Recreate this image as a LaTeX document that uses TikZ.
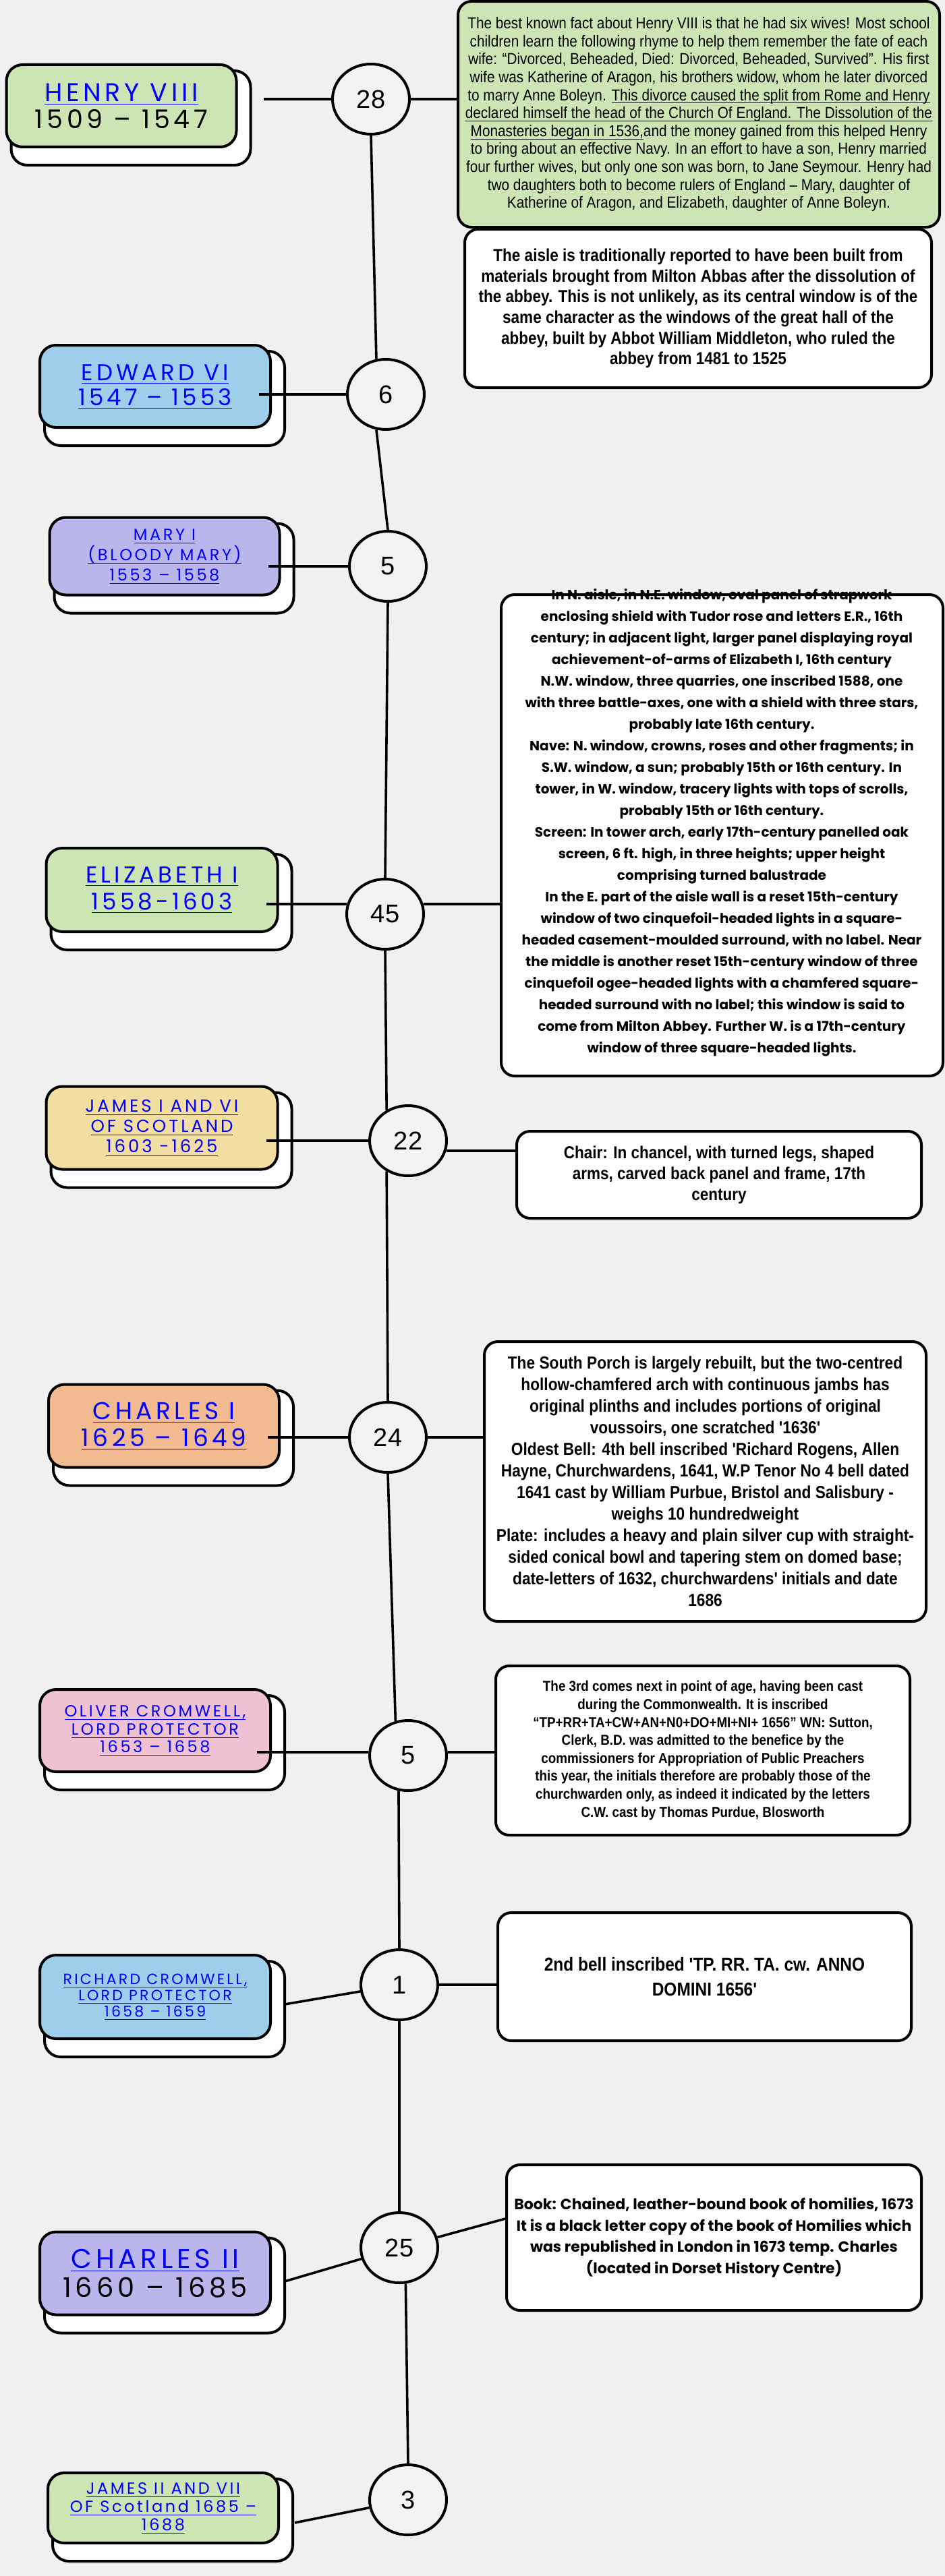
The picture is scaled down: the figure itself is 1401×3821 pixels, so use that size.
\documentclass[tikz,border=0pt]{standalone}
\usepackage{fontspec}
\usetikzlibrary{shapes.geometric,backgrounds}

\setmainfont{Liberation Sans}
\newfontfamily\narrowfont[FakeStretch=0.88]{Liberation Sans}
\newfontfamily\geofont{Poppins}
\newfontfamily\kingfont[LetterSpace=15]{Poppins}
\newfontfamily\numfont{Liberation Sans}
% underline
\newcommand\kul[1]{\setbox0=\hbox{#1}\rlap{\rule[-2.2pt]{\wd0}{0.5pt}}\box0}

\definecolor{paperbg}{RGB}{240,240,240}
\definecolor{tudorgreen}{RGB}{205,228,181}
\definecolor{skyblue}{RGB}{158,206,234}
\definecolor{lilac}{RGB}{186,181,234}
\definecolor{straw}{RGB}{242,222,160}
\definecolor{peachfill}{RGB}{242,186,144}
\definecolor{rosepink}{RGB}{238,194,211}
\definecolor{ringgrey}{RGB}{242,242,242}
\definecolor{inkblue}{RGB}{0,0,255}

\begin{document}
\begin{tikzpicture}[x=0.5pt,y=-0.5pt,
	king/.style={draw,line width=2pt,rounded corners=12pt,inner sep=0pt,align=center,text=inkblue},
	info/.style={draw,fill=white,line width=2pt,rounded corners=10pt,inner sep=0pt,align=center},
	reign/.style={ellipse,draw,line width=2pt,fill=ringgrey,minimum width=57pt,minimum height=52pt,inner sep=0pt,font=\numfont\fontsize{19}{19}\selectfont},
	link/.style={line width=1.8pt},
	backbox/.style={draw,fill=white,line width=2pt,rounded corners=12pt}]
	\useasboundingbox (0,0) rectangle (1401,3821);

	% kings
	\node[king,fill=tudorgreen,minimum width=170.5pt,minimum height=61pt,font=\kingfont\fontsize{19}{20}\selectfont] (henry) at (180,157) {\kul{HENRY VIII}\\{\color{black}1509 – 1547}};
	\node[king,fill=skyblue,minimum width=171pt,minimum height=61pt,font=\kingfont\fontsize{17}{18.5}\selectfont] (edward) at (230,573) {\kul{EDWARD VI}\\\kul{1547 – 1553}};
	\node[king,fill=lilac,minimum width=170.5pt,minimum height=57.5pt,font=\kingfont\fontsize{12}{15}\selectfont] (mary) at (244,825) {\kul{MARY I}\\\kul{(BLOODY MARY)}\\\kul{1553 – 1558}};
	\node[king,fill=tudorgreen,minimum width=171.5pt,minimum height=62pt,font=\kingfont\fontsize{17}{20}\selectfont] (elizabeth) at (240,1320) {\kul{ELIZABETH I}\\\kul{1558-1603}};
	\node[king,fill=straw,minimum width=171.5pt,minimum height=61.5pt,font=\kingfont\fontsize{13}{15}\selectfont] (jamesi) at (240,1673) {\kul{JAMES I AND VI}\\\kul{OF SCOTLAND}\\\kul{1603 -1625}};
	\node[king,fill=peachfill,minimum width=171pt,minimum height=61.5pt,font=\kingfont\fontsize{18}{20}\selectfont] (charlesi) at (243,2115) {\kul{CHARLES I}\\\kul{1625 – 1649}};
	\node[king,fill=rosepink,minimum width=171pt,minimum height=61pt,font=\kingfont\fontsize{12}{13.2}\selectfont] (oliver) at (230,2567) {\kul{OLIVER CROMWELL,}\\\kul{LORD PROTECTOR}\\\kul{1653 – 1658}};
	\node[king,fill=skyblue,minimum width=171pt,minimum height=62pt,font=\kingfont\fontsize{11}{12}\selectfont] (richard) at (230,2962) {\kul{RICHARD CROMWELL,}\\\kul{LORD PROTECTOR}\\\kul{1658 – 1659}};
	\node[king,fill=lilac,minimum width=171pt,minimum height=61.5pt,font=\kingfont\fontsize{20}{21.5}\selectfont] (charlesii) at (230,3372) {\kul{CHARLES II}\\{\color{black}1660 – 1685}};
	\node[king,fill=tudorgreen,minimum width=171pt,minimum height=52pt,font=\kingfont\fontsize{12}{13.5}\selectfont] (jamesii) at (242,3720) {\kul{JAMES II AND VII}\\\kul{OF Scotland 1685 –}\\\kul{1688}};

	% years
	\node[reign] (c28) at (550,147) {28};
	\node[reign] (c6) at (572,585) {6};
	\node[reign] (c5a) at (575,840) {5};
	\node[reign] (c45) at (571,1356) {45};
	\node[reign] (c22) at (605,1692) {22};
	\node[reign] (c24) at (575,2132) {24};
	\node[reign] (c5b) at (605,2604) {5};
	\node[reign] (c1) at (592,2944) {1};
	\node[reign] (c25) at (592,3334) {25};
	\node[reign] (c3) at (605,3708) {3};

	% notes
	\node[info,fill=tudorgreen,minimum width=357pt,minimum height=167.5pt,font=\narrowfont\fontsize{11.8}{13.3}\selectfont] (henryinfo) at (1036,169.5) {The best known fact about Henry VIII is that he had six wives! Most school\\children learn the following rhyme to help them remember the fate of each\\wife: “Divorced, Beheaded, Died: Divorced, Beheaded, Survived”. His first\\wife was Katherine of Aragon, his brothers widow, whom he later divorced\\to marry Anne Boleyn. \kul{This divorce caused the split from Rome and Henry}\\\kul{declared himself the head of the Church Of England. The Dissolution of the}\\\kul{Monasteries began in 1536,} and the money gained from this helped Henry\\to bring about an effective Navy. In an effort to have a son, Henry married\\four further wives, but only one son was born, to Jane Seymour. Henry had\\two daughters both to become rulers of England – Mary, daughter of\\Katherine of Aragon, and Elizabeth, daughter of Anne Boleyn.};
	\node[info,minimum width=346pt,minimum height=117.5pt,font=\narrowfont\bfseries\fontsize{12.8}{15.3}\selectfont] (aisle) at (1035,457.5) {The aisle is traditionally reported to have been built from\\materials brought from Milton Abbas after the dissolution of\\the abbey. This is not unlikely, as its central window is of the\\same character as the windows of the great hall of the\\abbey, built by Abbot William Middleton, who ruled the\\abbey from 1481 to 1525};
	\node[info,minimum width=327.5pt,minimum height=357pt] (elizinfo) at (1070.5,1239) {};
	\node[align=center,font=\geofont\bfseries\fontsize{10}{16}\selectfont] (elizatext) at (1070,1220) {In N. aisle, in N.E. window, oval panel of strapwork\\enclosing shield with Tudor rose and letters E.R., 16th\\century; in adjacent light, larger panel displaying royal\\achievement-of-arms of Elizabeth I, 16th century\\N.W. window, three quarries, one inscribed 1588, one\\with three battle-axes, one with a shield with three stars,\\probably late 16th century.\\Nave: N. window, crowns, roses and other fragments; in\\S.W. window, a sun; probably 15th or 16th century. In\\tower, in W. window, tracery lights with tops of scrolls,\\probably 15th or 16th century.\\Screen: In tower arch, early 17th-century panelled oak\\screen, 6 ft. high, in three heights; upper height\\comprising turned balustrade\\In the E. part of the aisle wall is a reset 15th-century\\window of two cinquefoil-headed lights in a square-\\headed casement-moulded surround, with no label. Near\\the middle is another reset 15th-century window of three\\cinquefoil ogee-headed lights with a chamfered square-\\headed surround with no label; this window is said to\\come from Milton Abbey. Further W. is a 17th-century\\window of three square-headed lights.};
	\node[info,minimum width=300pt,minimum height=64.5pt,font=\narrowfont\bfseries\fontsize{12.8}{15.5}\selectfont] (chair) at (1066,1742.5) {Chair: In chancel, with turned legs, shaped\\arms, carved back panel and frame, 17th\\century};
	\node[info,minimum width=327.5pt,minimum height=207.5pt,font=\narrowfont\bfseries\fontsize{12.9}{16}\selectfont] (porch) at (1045.5,2197.5) {The South Porch is largely rebuilt, but the two-centred\\hollow-chamfered arch with continuous jambs has\\original plinths and includes portions of original\\voussoirs, one scratched '1636'\\Oldest Bell: 4th bell inscribed 'Richard Rogens, Allen\\Hayne, Churchwardens, 1641, W.P Tenor No 4 bell dated\\1641 cast by William Purbue, Bristol and Salisbury -\\weighs 10 hundredweight\\Plate: includes a heavy and plain silver cup with straight-\\sided conical bowl and tapering stem on domed base;\\date-letters of 1632, churchwardens' initials and date\\1686};
	\node[info,minimum width=307pt,minimum height=125.5pt,font=\narrowfont\bfseries\fontsize{10.7}{13.3}\selectfont] (oliverinfo) at (1042,2596.5) {The 3rd comes next in point of age, having been cast\\during the Commonwealth. It is inscribed\\“TP+RR+TA+CW+AN+N0+DO+MI+NI+ 1656” WN: Sutton,\\Clerk, B.D. was admitted to the benefice by the\\commissioners for Appropriation of Public Preachers\\this year, the initials therefore are probably those of the\\churchwarden only, as indeed it indicated by the letters\\C.W. cast by Thomas Purdue, Blosworth};
	\node[info,minimum width=306.5pt,minimum height=95pt,font=\narrowfont\bfseries\fontsize{13.9}{18.5}\selectfont] (bell) at (1044.5,2932) {2nd bell inscribed 'TP. RR. TA. cw. ANNO\\DOMINI 1656'};
	\node[info,minimum width=307.5pt,minimum height=108pt,font=\geofont\bfseries\fontsize{11}{15.9}\selectfont] (book) at (1058.5,3319) {Book: Chained, leather-bound book of homilies, 1673\\It is a black letter copy of the book of Homilies which\\was republished in London in 1673 temp. Charles\\(located in Dorset History Centre)};

	% spine
	\draw[link] (c28.south) -- (c6.105);
	\draw[link] (c6.255) -- (c5a.north);
	\draw[link] (c5a.south) -- (c45.north);
	\draw[link] (c45.south) -- (c22.125);
	\draw[link] (c22.235) -- (c24.north);
	\draw[link] (c24.south) -- (c5b.110);
	\draw[link] (c5b.255) -- (c1.north);
	\draw[link] (c1.south) -- (c25.north);
	\draw[link] (c25.280) -- (c3.north);

	% kings to years
	\draw[link,shorten >=19pt] (c28) -- (c28 -| henry.east);
	\draw[link,shorten >=-9.5pt] (c6) -- (c6 -| edward.east);
	\draw[link,shorten >=-9.5pt] (c5a) -- (c5a -| mary.east);
	\draw[link,shorten >=-9.5pt] (c45.165) -- (c45.165 -| elizabeth.east);
	\draw[link,shorten >=-9.5pt] (c22) -- (c22 -| jamesi.east);
	\draw[link,shorten >=-9.5pt] (c24) -- (c24 -| charlesi.east);
	\draw[link,shorten >=-11pt] (c5b.175) -- (c5b.175 -| oliver.east);
	\draw[link] (c1) -- ([xshift=9.5pt,yshift=-5.5pt]richard.east);
	\draw[link] (c25) -- ([xshift=9.5pt,yshift=-6pt]charlesii.east);
	\draw[link] (c3) -- ([xshift=11pt,yshift=-11pt]jamesii.east);

	% years to notes
	\draw[link] (c28) -- (c28 -| henryinfo.west);
	\draw[link] (c45.15) -- (c45.15 -| elizinfo.west);
	\draw[link] (c22.345) -- (c22.345 -| chair.west);
	\draw[link] (c24) -- (c24 -| porch.west);
	\draw[link] (c5b.5) -- (c5b.5 -| oliverinfo.west);
	\draw[link] (c1) -- (c1 -| bell.west);
	\draw[link] (c25) -- ([yshift=14pt]book.west);

	% paper and shadows
	\begin{scope}[on background layer]
		\fill[paperbg] (0,0) rectangle (1401,3821);
		\foreach \k in {henry,edward,mary,elizabeth,jamesi,charlesi,oliver,richard,charlesii,jamesii}
			\draw[backbox] ([shift={(4.5pt,-5.5pt)}]\k.north west) rectangle ([shift={(9.5pt,-12.5pt)}]\k.south east);
	\end{scope}
\end{tikzpicture}
\end{document}
